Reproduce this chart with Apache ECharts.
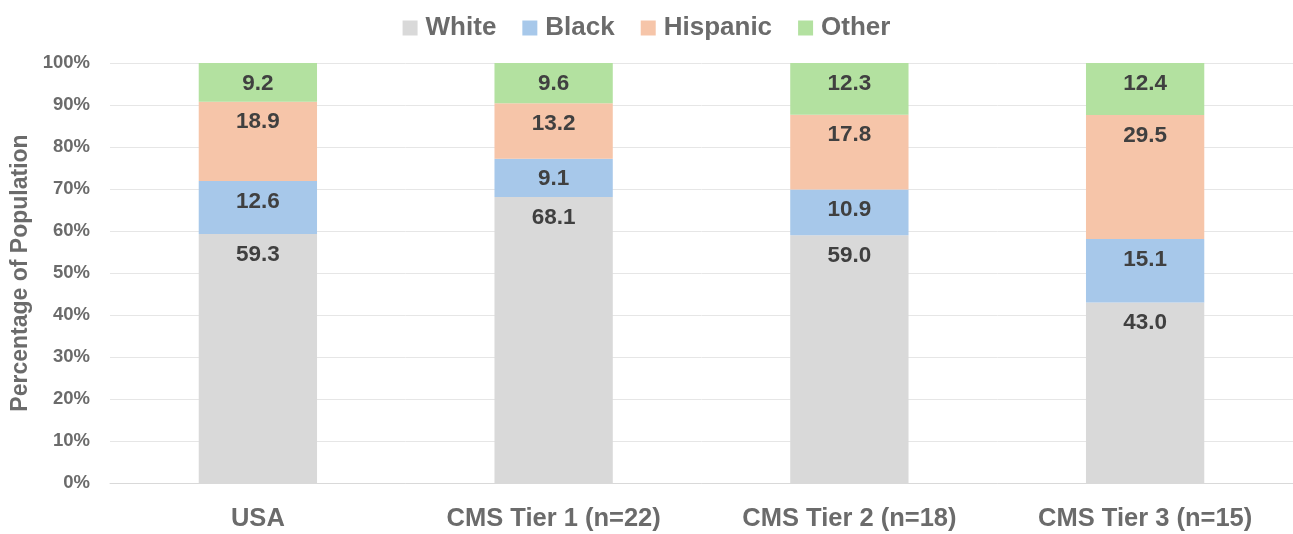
<!DOCTYPE html>
<html>
<head>
<meta charset="utf-8">
<script src="https://cdn.jsdelivr.net/npm/echarts@6/dist/echarts.min.js"></script>
<style>
  html, body { margin: 0; padding: 0; background: #fff; }
  #chart { width: 1293px; height: 534px; }
</style>
</head>
<body>
<div id="chart"></div>
<script>
// Population share by race/ethnicity, stacked to 100%
const categories = ['USA', 'CMS Tier 1 (n=22)', 'CMS Tier 2 (n=18)', 'CMS Tier 3 (n=15)'];
const white    = [59.3, 68.1, 59.0, 43.0];
const black    = [12.6, 9.1, 10.9, 15.1];
const hispanic = [18.9, 13.2, 17.8, 29.5];
const other    = [9.2, 9.6, 12.3, 12.4];
const yTicks = [0, 10, 20, 30, 40, 50, 60, 70, 80, 90, 100];

const FONT = '"Liberation Sans", Arial, sans-serif';
const groups = [
  { name: 'White',    data: white,    color: '#d9d9d9' },
  { name: 'Black',    data: black,    color: '#a7c8ea' },
  { name: 'Hispanic', data: hispanic, color: '#f6c5a9' },
  { name: 'Other',    data: other,    color: '#b3e1a0' }
];

const chart = echarts.init(document.getElementById('chart'), null, { renderer: 'canvas' });
chart.setOption({
  animation: false,
  textStyle: { fontFamily: FONT },
  legend: {
    top: 10,
    left: 'center',
    itemWidth: 15,
    itemHeight: 15,
    itemGap: 26,
    icon: 'rect',
    textStyle: { fontSize: 26, fontWeight: 'bold', color: '#6b6b6b', fontFamily: FONT, padding: [0, 0, 0, 3] },
    data: groups.map(g => g.name)
  },
  grid: { left: 110, right: 0, top: 63, bottom: 51, containLabel: false, outerBoundsMode: 'none' },
  xAxis: {
    type: 'category',
    data: categories,
    axisTick: { show: false },
    axisLine: { lineStyle: { color: '#d9d9d9', width: 1 } },
    axisLabel: { fontSize: 25.5, fontWeight: 'bold', color: '#6b6b6b', margin: 23, fontFamily: FONT }
  },
  yAxis: {
    type: 'value',
    min: yTicks[0],
    max: yTicks[yTicks.length - 1],
    interval: 10,
    name: 'Percentage of Population',
    nameLocation: 'middle',
    nameGap: 77,
    nameTextStyle: { fontSize: 23, fontWeight: 'bold', color: '#6b6b6b', fontFamily: FONT },
    axisLabel: {
      fontSize: 18.5, fontWeight: 'bold', color: '#6b6b6b', margin: 20, fontFamily: FONT,
      formatter: v => v + '%'
    },
    splitLine: { lineStyle: { color: '#e6e6e6', width: 1 } },
    axisLine: { show: false },
    axisTick: { show: false }
  },
  series: groups.map(g => ({
    name: g.name,
    type: 'bar',
    stack: 'total',
    barWidth: '40%',
    data: g.data,
    itemStyle: { color: g.color },
    label: {
      show: true,
      position: 'insideTop',
      distance: 9,
      fontSize: 22.5,
      fontWeight: 'bold',
      color: '#404040',
      fontFamily: FONT,
      formatter: p => p.value.toFixed(1)
    }
  }))
});
</script>
</body>
</html>
